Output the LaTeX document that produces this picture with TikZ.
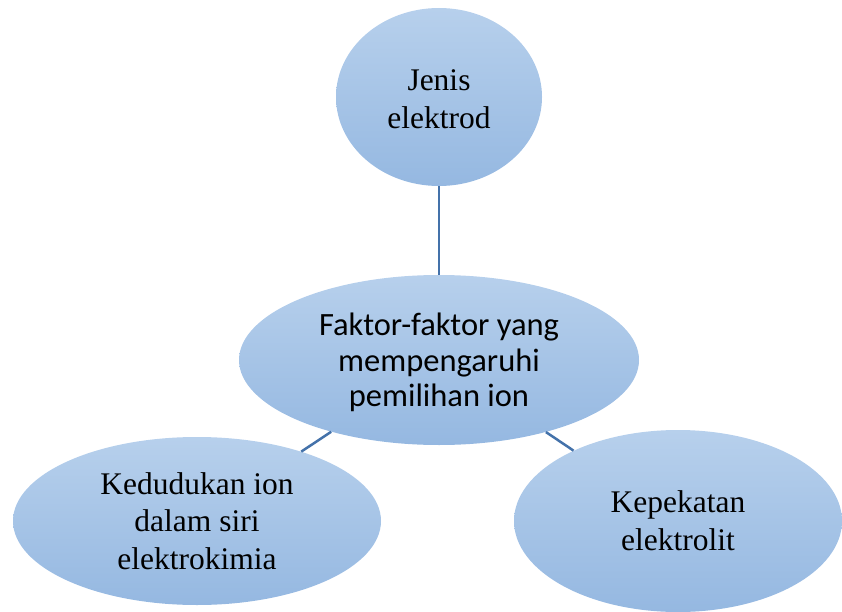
\documentclass[tikz,border=0pt]{standalone}
\usepackage{fontspec}
\setmainfont{Liberation Serif}
\newfontfamily\carlitofont{Carlito}
\usetikzlibrary{shapes.geometric}
\definecolor{topblue}{RGB}{183,208,236}
\definecolor{botblue}{RGB}{149,184,225}
\definecolor{linkblue}{RGB}{68,114,170}
\newcommand{\lowtext}[2][4pt]{\raisebox{-#1}[\height][\depth]{\begin{tabular}{@{}c@{}}#2\end{tabular}}}
\tikzset{
  bubble/.style={ellipse, inner sep=0pt, top color=topblue, bottom color=botblue, draw=none, text=black},
  serifText/.style={font=\fontsize{31.5}{37.5}\selectfont},
  sansText/.style={font=\carlitofont\fontsize{32.5}{35.5}\selectfont},
  link/.style={draw=linkblue, line width=2.5pt}
}
\begin{document}
\begin{tikzpicture}[x=1pt,y=-1pt]
\useasboundingbox (0,0) rectangle (842,612);
\node[bubble, serifText, minimum width=206pt, minimum height=178pt] (top) at (439,97) {\lowtext[5pt]{Jenis\\elektrod}};
\node[bubble, sansText, minimum width=400pt, minimum height=170pt] (mid) at (439,360) {\lowtext[4pt]{Faktor-faktor yang\\mempengaruhi\\pemilihan ion}};
\node[bubble, serifText, minimum width=368pt, minimum height=168pt] (left) at (197,521) {\lowtext[3pt]{Kedudukan ion\\dalam siri\\elektrokimia}};
\node[bubble, serifText, minimum width=328pt, minimum height=182pt] (right) at (678,521) {\lowtext[3pt]{Kepekatan\\elektrolit}};
\draw[link] (top) -- (mid);
\draw[link] (mid) -- (left);
\draw[link] (mid) -- (right);
\end{tikzpicture}
\end{document}
